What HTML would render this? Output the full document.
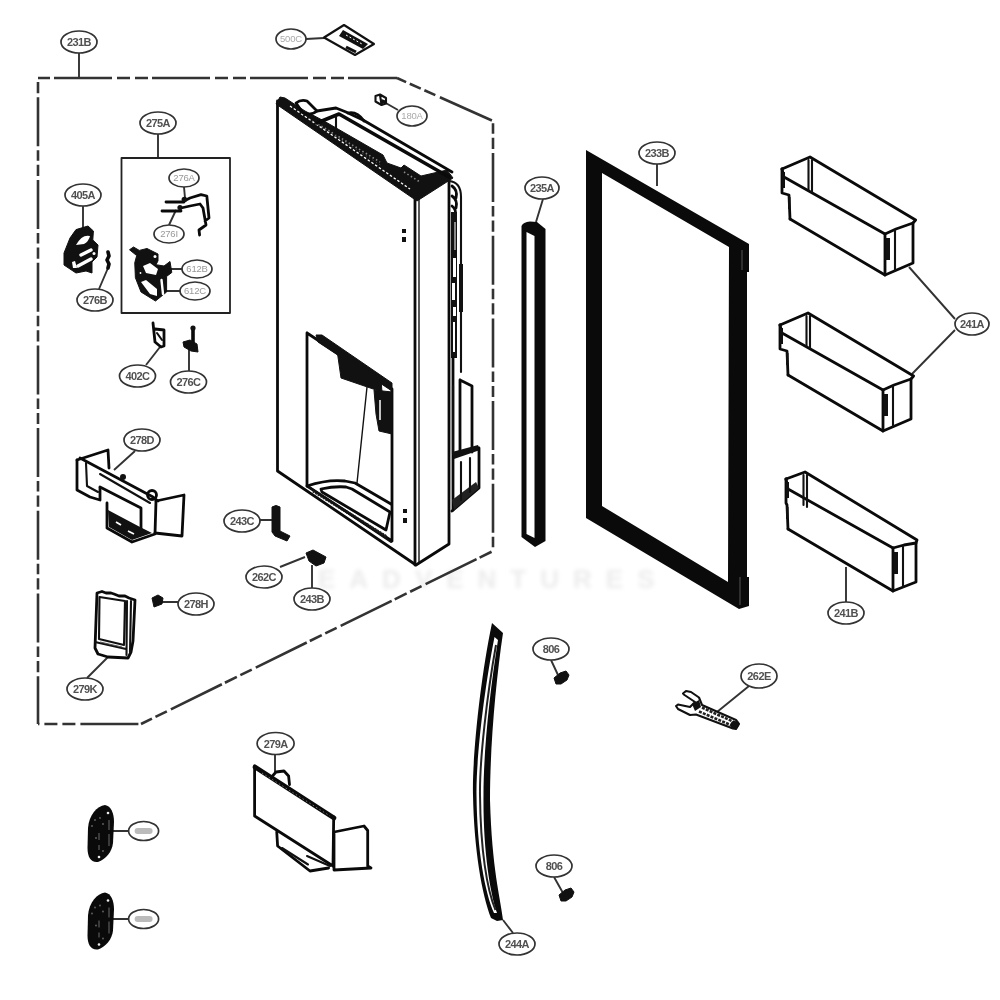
<!DOCTYPE html>
<html><head><meta charset="utf-8"><style>
html,body{margin:0;padding:0;background:#fff;}
svg{display:block;filter:blur(0.45px);}
text{font-family:"Liberation Sans",sans-serif;font-size:11px;text-anchor:middle;letter-spacing:-0.2px;}
.lb{fill:#fff;stroke:#333;stroke-width:1.7;}
.k1{fill:none;stroke:#111;stroke-width:1.4;stroke-linejoin:round;stroke-linecap:round;}
.k15{fill:none;stroke:#111;stroke-width:2.1;stroke-linejoin:round;stroke-linecap:round;}
.k2{fill:none;stroke:#0a0a0a;stroke-width:2.8;stroke-linejoin:round;stroke-linecap:round;}
.k3{fill:none;stroke:#0a0a0a;stroke-width:3.6;stroke-linejoin:round;stroke-linecap:round;}
.ld{fill:none;stroke:#333;stroke-width:1.9;}
.blk{fill:#111;stroke:#111;stroke-width:1;stroke-linejoin:round;}
.ds{fill:none;stroke:#333;stroke-width:2.6;stroke-dasharray:52 4 12 4 12 4;}
</style></head><body>
<svg width="1000" height="1000" viewBox="0 0 1000 1000">
<rect width="1000" height="1000" fill="#fff"/>
<!-- watermark -->
<filter id="wb" x="-10%" y="-50%" width="120%" height="200%"><feGaussianBlur stdDeviation="2.2"/></filter>
<text x="318" y="588" filter="url(#wb)" style="font-size:26px;letter-spacing:14px;font-weight:bold;text-anchor:start" fill="#ececec">EADVENTURES</text>

<!-- dashed boundary -->
<g fill="none" stroke="#333" stroke-width="2.6">
<path d="M38,78 L38,724" stroke-dasharray="49 4 10.5 4 11.2 4" stroke-dashoffset="63.4"/>
<path d="M38,78 L397,78" stroke-dasharray="58 5 13 5 13 4" stroke-dashoffset="82"/>
<path d="M397,78 L493,121" stroke-dasharray="57 4 12 4 12 5" stroke-dashoffset="47"/>
<path d="M493,121 L493,551" stroke-dasharray="49 4 10.5 4 11.2 4" stroke-dashoffset="50.7"/>
<path d="M141,724 L493,551" stroke-dasharray="56.8 3.4 13.3 3.9 12.7 4.5" stroke-dashoffset="61.3"/>
<path d="M38,724 L141,724" stroke-dasharray="58 5 13 5 13 5" stroke-dashoffset="56.6"/>
</g>

<!-- leader lines -->
<path class="ld" d="M79,53 L79,78 M158,134 L158,158 M184,187 L185,198 M169,225 L176,210 M83,206 L83,228
M99,289 L108,268 M171,269 L182,269 M165,291 L180,291 M160,347 L146,365 M189,348 L189,371
M135,451 L114,470 M260,520 L272,520 M280,567 L305,557 M312,565 L312,588 M162,602 L178,602
M108,657 L87,678 M306,39 L324,38 M384,102 L398,110 M657,164 L657,186 M543,199 L536,222
M909,267 L955,319 M955,330 L912,374 M846,567 L846,602 M551,660 L558,675 M554,877 L563,893
M503,920 L513,933 M749,686 L717,712 M275,755 L275,772 M113,831 L128,831 M113,919 L128,919"/>

<!-- 275A box -->
<rect x="121.5" y="158" width="108.5" height="155" class="k2" style="stroke:#222;stroke-width:1.8"/>

<!-- door -->
<path class="k2" d="M277.5,101 L277.5,471 L416,565 L449,544 L449,177"/>
<path class="k2" d="M415,198 L415,565"/>
<path class="k1" d="M419,196 L419,563"/>
<polygon class="blk" points="276,104 280,97 285,98 305,111 324,121 383,155 387,163 401,168 404,165 421,176 447,170 453,178 417,201"/>
<path d="M290,106 L410,189" stroke="#fff" stroke-width="1.3" stroke-dasharray="2.5 2"/>
<path d="M318,124 L380,162 M404,172 L420,182" stroke="#888" stroke-width="1.6" stroke-dasharray="1.5 2.5"/>
<path d="M312,121 L382,166" stroke="#666" stroke-width="1" stroke-dasharray="1 3"/>
<path class="k3" d="M317,123 L339,114 L449,177"/>
<path class="k2" d="M317,111 L336,108 L346,112 L363,120 L452,172"/>
<path class="k2" d="M296,103 Q301,99 307,101 L317,111 Q311,116 303,113 Z"/>
<path class="k15" d="M336,117 L336,134"/>
<path class="k2" d="M348,113 Q357,111 364,121"/>
<!-- side profile -->
<path class="k15" d="M449,181 Q461,182 461,197 L461,372"/>
<path class="k2" d="M452,186 Q458,190 456,198 M452,196 Q458,200 456,208 M452,206 Q457,210 455,216"/>
<rect x="451" y="212" width="6" height="146" fill="#111"/>
<path d="M455,222 L455,250 M454,262 L454,268" stroke="#fff" stroke-width="1"/>
<rect x="453" y="258" width="3" height="19" fill="#fff"/>
<rect x="452" y="283" width="3" height="17" fill="#fff"/>
<rect x="453" y="307" width="3" height="9" fill="#fff"/>
<rect x="453" y="322" width="2" height="30" fill="#fff"/>
<rect x="459" y="264" width="4" height="48" fill="#111"/>
<path class="k2" d="M453,358 L453,510"/>
<path class="k2" d="M460,380 L472,386 L472,452 M460,380 L460,452"/>
<path class="k15" d="M453,386 L453,454"/>
<path d="M452,452 L478,445 L480,450 L454,459 Z" fill="#111"/>
<path class="k2" d="M479,448 L479,488 L452,511"/>
<path d="M452,500 L476,482 L479,488 L454,510 Z" fill="#222"/>
<path class="k15" d="M461,462 L461,500 M470,458 L470,492"/>
<!-- front dots -->
<rect x="402" y="229" width="4" height="4" fill="#111"/><rect x="402" y="237" width="4" height="5" fill="#111"/>
<rect x="403" y="509" width="4" height="4" fill="#111"/><rect x="403" y="518" width="4" height="5" fill="#111"/>
<!-- dispenser recess -->
<path class="k2" d="M307,333 L307,486 L392,541 L392,389 L307,333"/>
<polygon class="blk" points="316,335 322,335 392,383 392,391 318,342"/>
<polygon class="blk" points="337,350 381,380 382,392 341,378"/>
<polygon class="blk" points="374,390 392,392 392,434 379,431 376,414"/>
<path d="M380,400 L380,420" stroke="#fff" stroke-width="1.5"/>
<path class="k1" d="M367,387 L357,483"/>
<path class="k2" d="M307,486 Q328,479 345,481 L355,483 L391,504"/>
<path class="k2" d="M321,489 Q335,486 346,487 L352,489 L390,512 L386,530 L322,492 Z"/>
<path d="M313,491 L387,537" stroke="#222" stroke-width="3" stroke-dasharray="2 1"/><path class="k15" d="M309,487 L391,542"/>

<!-- 180A part -->
<path class="k15" d="M375.5,96 L380,94.5 L386,98 L386,103.5 L381.5,105 L375.5,101.5 Z M380,95 L381.5,104.5"/><path d="M381.5,99 L385.5,100.5 L385.5,103 L381.5,104 Z" fill="#111"/>
<!-- 500C card -->
<polygon class="k15" style="fill:#fff" points="324,37.5 344,25 374,44 355,55"/>
<path d="M343,30 L368,44 L363,49 L339,36 Z" fill="#111"/><path d="M346,35 L362,44" stroke="#fff" stroke-width="1" stroke-dasharray="2 2"/><path d="M346,47 L356,52" stroke="#111" stroke-width="3"/>

<!-- 405A part -->
<path class="blk" d="M64,253 L70,238 L76,229.6 L88,226 L93.4,231 L92.8,240 L98,245 L97,257 L92,262 L92,273 L86,271 L76,273 L64,265 Z"/>
<path d="M76,245 Q82,234 90,236 Q89,241 84,244 Z" fill="#fff"/>
<path d="M81,255 L91,250 M78,266 L91,259" stroke="#fff" stroke-width="3.4" stroke-linecap="round"/>
<path d="M72,262 L75,261 L77,268 L73,268 Z" fill="#fff"/><circle cx="94" cy="253.6" r="1.5" fill="#fff"/>
<path class="k3" d="M108,252 L109,256 L107,260 L109,264 L108,268"/>
<!-- 276A bracket -->
<path class="k2" d="M166,202 L184,202 M162,211 L181,211 M184,201 L190,198 L201,194.6 L206.8,196 L209,218 L205,221 M181,208 L190,206 L200,204 L203,208 L206,225 L199,230 L199.6,235"/>
<circle cx="184.4" cy="199.5" r="2.8" fill="#111"/><circle cx="180" cy="207.5" r="2.6" fill="#111"/>
<!-- 612 part -->
<path class="blk" d="M129.5,249.75 L133.5,247 L139.3,250.4 L147,248.5 L158,254 L158,260.8 L156,264.7 L164,266 L170,261.5 L171.8,272.5 L166.6,276.4 L166.6,292 L155.5,301 L141,292 L135.4,277.7 L134.75,262.75 L136.7,255.6 Z"/>
<path d="M143,266 L150,263 L158,269 L156,275 L146,273 Z M141,282 L146,280 L157,289 L157,296 L150,294 Z" fill="#fff"/>
<path d="M161.5,280 L163,294" stroke="#fff" stroke-width="2.4" stroke-linecap="round"/>
<circle cx="155" cy="256.5" r="1.5" fill="#fff"/><circle cx="140.5" cy="273" r="0.9" fill="#fff"/>
<!-- 402C part -->
<path class="k2" d="M153,323 L155,342 L161,347 L164,346 L164,330 L155,329"/>
<path class="k15" d="M157,333 L162,340"/>
<!-- 276C part -->
<path class="k3" d="M193,329 L193,348"/>
<circle cx="193" cy="328" r="2.6" fill="#111"/>
<path class="blk" d="M183,342 L190,340 L197,344 L198,352 L191,351 L184,347 Z"/>

<!-- 278D part -->
<path class="k2" d="M77,460 L108,450 L109,468"/>
<path class="k2" d="M77,460 L77,490 L90,497 L100,500 L100,488"/>
<path class="k15" d="M86,463 L87,486 L98,492"/>
<path class="k2" d="M80,458 L153,497 L158,501"/>
<path class="k15" d="M100,474 L150,503"/>
<path class="k2" d="M100,487 L141,508 L141,530"/>
<path class="k2" d="M107,503 L107,528 L132,542 L155,534 L156,501"/>
<path d="M108,510 L140,527 L152,533 L132,540 L109,527 Z" fill="#111"/>
<path d="M116,522 L121,525 M128,531 L134,534" stroke="#fff" stroke-width="1.8"/>
<path class="k2" d="M156,501 L184,495 L182,536 L155,533"/>
<circle cx="152" cy="495" r="4.5" class="k2"/>
<circle cx="123" cy="477" r="3" fill="#111"/>
<!-- 243C part -->
<path class="blk" d="M272,507 Q276,504 280,507 L280,531 L290,536 L287,541 L275,536 L272,532 Z"/>
<!-- 243B part -->
<path class="blk" d="M306,553 L313,550 L326,557 L324,563 L316,566 L309,561 Z"/>
<!-- 278H part -->
<path class="blk" d="M152,598 L158,595 L163,598 L162,604 L154,607 Z"/>
<!-- 279K part -->
<path class="k2" d="M97,593 L102,591.5 L106,593 L111,593 L114,594 L119,596 L125,596 L129,598 L135,600 L133,641 L131,652 L128,658 L108,657 L98,654 L95,648 Z"/>
<path class="k15" d="M99.5,597 L125,601 L124,645 L99,639 Z M95,642 L126,649 M127,601 L126.5,655 M131,601 L130,652"/>
<path d="M100,642 L122,647" stroke="#555" stroke-width="1.2"/>
<!-- 233B gasket -->
<path d="M586,150 L749,244 L749,272 L747,272 L747,577 L749,577 L749,606 L739,609 L586,518 Z M602,173 L602,506 L728,582 L729,247 Z" fill="#0a0a0a" fill-rule="evenodd"/>
<!-- 235A strip -->
<path d="M521.5,226 Q523,222 530,221.5 L537,222 L545.5,229 L545.5,541 L535,547 L521.5,537 Z" fill="#0a0a0a"/>
<path d="M740,577 L740,605" stroke="#555" stroke-width="1"/><path d="M742,250 L742,270" stroke="#555" stroke-width="1"/>
<path d="M526.5,232 L534.5,236 L534.5,538 L526.5,534 Z" fill="#fff"/>

<!-- bins -->
<path class="k2" d="M782.0,169.0 L810.0,157.0 L915.6,220.0 L913.0,223.0 L913.0,263.0 L885.0,275.0 L790.0,219.0"/>
<path class="k2" d="M782.0,169.0 L784.0,177.0 L885.0,234.0 L896.0,229.0 L913.0,223.0"/>
<path class="k2" d="M782.0,169.0 L782.0,193.0 L789.0,195.0 L790.0,219.0"/>
<path class="k2" d="M885.0,234.0 L885.0,275.0"/>
<path class="k15" d="M895.0,230.0 L895.0,271.0"/>
<rect x="885.5" y="238.0" width="4.5" height="22" fill="#111"/>
<path class="k15" d="M808.5,160.0 L808.5,190.0 M812.0,160.0 L812.0,192.0"/>
<rect x="782.0" y="172.0" width="3" height="16" fill="#111"/>
<rect x="788.0" y="197.0" width="2.5" height="12" fill="#111"/>
<path class="k2" d="M780.0,325.0 L808.0,313.0 L913.6,376.0 L911.0,379.0 L911.0,419.0 L883.0,431.0 L788.0,375.0"/>
<path class="k2" d="M780.0,325.0 L782.0,333.0 L883.0,390.0 L894.0,385.0 L911.0,379.0"/>
<path class="k2" d="M780.0,325.0 L780.0,349.0 L787.0,351.0 L788.0,375.0"/>
<path class="k2" d="M883.0,390.0 L883.0,431.0"/>
<path class="k15" d="M893.0,386.0 L893.0,427.0"/>
<rect x="883.5" y="394.0" width="4.5" height="22" fill="#111"/>
<path class="k15" d="M806.5,316.0 L806.5,346.0 M810.0,316.0 L810.0,348.0"/>
<rect x="780.0" y="328.0" width="3" height="16" fill="#111"/>
<rect x="786.0" y="353.0" width="2.5" height="12" fill="#111"/>
<path class="k2" d="M786.0,479.0 L805.0,472.0 L917.0,540.0 L916.0,543.0 L916.0,582.0 L893.0,591.0 L788.0,529.0"/>
<path class="k2" d="M786.0,479.0 L788.0,489.0 L893.0,548.0 L904.0,545.0 L916.0,543.0"/>
<path class="k2" d="M786.0,479.0 L786.0,503.0 L787.0,505.0 L788.0,529.0"/>
<path class="k2" d="M893.0,548.0 L893.0,591.0"/>
<path class="k15" d="M903.0,546.0 L903.0,587.0"/>
<rect x="893.5" y="552.0" width="4.5" height="22" fill="#111"/>
<path class="k15" d="M803.5,475.0 L803.5,505.0 M807.0,475.0 L807.0,507.0"/>
<rect x="786.0" y="482.0" width="3" height="16" fill="#111"/>
<rect x="786.0" y="507.0" width="2.5" height="12" fill="#111"/>

<!-- handle 244A -->
<path d="M492,623 C480,680 472,760 473,795 C474,850 482,895 491,918 L497,921 L503,920 C500,895 492,870 490,800 C490,745 496,680 503,633 Z" fill="#0a0a0a"/>
<path d="M494.5,637 C484,690 476,760 476.5,795 C477,850 485,893 494,913 L497,913 C490,893 483,850 483.5,795 C483.5,750 490,690 498,640 Z" fill="#fff"/>
<path d="M496,645 C487,695 479.5,760 480,795 C480.5,850 487,890 495.5,910" stroke="#222" stroke-width="2" fill="none"/>
<!-- screws -->
<path class="blk" d="M554,678 L560,673 L566,671 L569,675 L567,680 L561,684 L556,684 Z"/>
<path class="blk" d="M559,895 L565,890 L571,888 L574,892 L572,897 L566,901 L561,901 Z"/>

<!-- wrench 262E -->
<path class="k15" d="M683,693.5 L686,691 L691,692 L699,697.5 L702,705 L736,720 L739,724 L736,729 L733,728.5 L696,714.5 L690,715 L678,709 L676,706 L678,704.5 L690,707 L695,702 L684.5,695 Z"/>
<path d="M702,707.5 L735,722.5 M699,711.5 L733,726" stroke="#222" stroke-width="2.6" stroke-dasharray="3 1.2"/>
<path d="M692,704 L699,700 L701,707 L695,711 Z" fill="#111"/>
<circle cx="734.5" cy="725" r="4" fill="#111"/>
<!-- 279A part -->
<path class="k2" d="M254.6,766 L254.6,816 L333,866 L333.7,817"/>
<path d="M255,767 L334,818" stroke="#0a0a0a" stroke-width="4.6" stroke-linecap="round"/>
<path d="M262,773 L330,816" stroke="#777" stroke-width="1" stroke-dasharray="1.5 2.5"/>
<path class="k2" d="M272.5,776 L276,772 L284,771 L288.6,776 L289.5,784.6"/>
<path class="k2" d="M334,832 L364,826 L367.7,830.5 L367.7,866 L371,868 L334,870 Z"/>
<path class="k2" d="M276.75,832 L277.6,846 L310,871 L328.6,868"/>
<path class="k15" d="M282,848 L308,864.5 M307,856 L330,866"/>
<!-- filters -->
<path d="M105,805 C111,806 114,813 114,822 L113,843 C112,852 106,859 98,862 C91,863 87.5,857 87.5,848 L88,828 C89,815 97,806 105,805 Z" fill="#0a0a0a"/>
<path transform="translate(0,87.5)" d="M105,805 C111,806 114,813 114,822 L113,843 C112,852 106,859 98,862 C91,863 87.5,857 87.5,848 L88,828 C89,815 97,806 105,805 Z" fill="#0a0a0a"/>
<circle cx="108" cy="813" r="1.3" fill="#eee"/><circle cx="99" cy="857" r="1.3" fill="#eee"/>
<path d="M109,820 L109,830 M109,834 L109,846 M99,833 L99,840 M99,845 L99,850" stroke="#555" stroke-width="1.3"/>
<circle cx="95" cy="820" r="0.9" fill="#666"/>
<circle cx="92" cy="826" r="0.9" fill="#666"/>
<circle cx="100" cy="818" r="0.9" fill="#666"/>
<circle cx="103" cy="824" r="0.9" fill="#666"/>
<circle cx="96" cy="838" r="0.9" fill="#666"/>
<circle cx="103" cy="851" r="0.9" fill="#666"/>
<circle cx="108" cy="900.5" r="1.3" fill="#eee"/><circle cx="99" cy="944.5" r="1.3" fill="#eee"/>
<path d="M109,907.5 L109,917.5 M109,921.5 L109,933.5 M99,920.5 L99,927.5 M99,932.5 L99,937.5" stroke="#555" stroke-width="1.3"/>
<circle cx="95" cy="907.5" r="0.9" fill="#666"/>
<circle cx="92" cy="913.5" r="0.9" fill="#666"/>
<circle cx="100" cy="905.5" r="0.9" fill="#666"/>
<circle cx="103" cy="911.5" r="0.9" fill="#666"/>
<circle cx="96" cy="925.5" r="0.9" fill="#666"/>
<circle cx="103" cy="938.5" r="0.9" fill="#666"/>
<ellipse cx="79" cy="42" rx="18" ry="11" class="lb"/>
<text x="79" y="46.0" fill="#505050" style="font-size:11px;font-weight:bold;letter-spacing:-0.6px">231B</text>
<ellipse cx="291" cy="39" rx="15" ry="10" class="lb"/>
<text x="291" y="42.4" fill="#aaa" style="font-size:9.5px">500C</text>
<ellipse cx="412" cy="116" rx="15" ry="10" class="lb"/>
<text x="412" y="119.4" fill="#aaa" style="font-size:9.5px">180A</text>
<ellipse cx="158" cy="123" rx="18" ry="11" class="lb"/>
<text x="158" y="127.0" fill="#505050" style="font-size:11px;font-weight:bold;letter-spacing:-0.6px">275A</text>
<ellipse cx="184" cy="178" rx="15" ry="9" class="lb"/>
<text x="184" y="181.4" fill="#999" style="font-size:9.5px">276A</text>
<ellipse cx="169" cy="234" rx="15" ry="9" class="lb"/>
<text x="169" y="237.4" fill="#999" style="font-size:9.5px">276I</text>
<ellipse cx="83" cy="195" rx="18" ry="11" class="lb"/>
<text x="83" y="199.0" fill="#505050" style="font-size:11px;font-weight:bold;letter-spacing:-0.6px">405A</text>
<ellipse cx="95" cy="300" rx="18" ry="11" class="lb"/>
<text x="95" y="304.0" fill="#505050" style="font-size:11px;font-weight:bold;letter-spacing:-0.6px">276B</text>
<ellipse cx="197" cy="269" rx="15" ry="9" class="lb"/>
<text x="197" y="272.4" fill="#999" style="font-size:9.5px">612B</text>
<ellipse cx="195" cy="291" rx="15" ry="9" class="lb"/>
<text x="195" y="294.4" fill="#999" style="font-size:9.5px">612C</text>
<ellipse cx="137.5" cy="376" rx="18" ry="11" class="lb"/>
<text x="137.5" y="380.0" fill="#505050" style="font-size:11px;font-weight:bold;letter-spacing:-0.6px">402C</text>
<ellipse cx="188.5" cy="382" rx="18" ry="11" class="lb"/>
<text x="188.5" y="386.0" fill="#505050" style="font-size:11px;font-weight:bold;letter-spacing:-0.6px">276C</text>
<ellipse cx="142" cy="440" rx="18" ry="11" class="lb"/>
<text x="142" y="444.0" fill="#505050" style="font-size:11px;font-weight:bold;letter-spacing:-0.6px">278D</text>
<ellipse cx="242" cy="521" rx="18" ry="11" class="lb"/>
<text x="242" y="525.0" fill="#505050" style="font-size:11px;font-weight:bold;letter-spacing:-0.6px">243C</text>
<ellipse cx="264" cy="577" rx="18" ry="11" class="lb"/>
<text x="264" y="581.0" fill="#505050" style="font-size:11px;font-weight:bold;letter-spacing:-0.6px">262C</text>
<ellipse cx="312" cy="599" rx="18" ry="11" class="lb"/>
<text x="312" y="603.0" fill="#505050" style="font-size:11px;font-weight:bold;letter-spacing:-0.6px">243B</text>
<ellipse cx="196" cy="604" rx="18" ry="11" class="lb"/>
<text x="196" y="608.0" fill="#505050" style="font-size:11px;font-weight:bold;letter-spacing:-0.6px">278H</text>
<ellipse cx="85" cy="689" rx="18" ry="11" class="lb"/>
<text x="85" y="693.0" fill="#505050" style="font-size:11px;font-weight:bold;letter-spacing:-0.6px">279K</text>
<ellipse cx="657" cy="153" rx="18" ry="11" class="lb"/>
<text x="657" y="157.0" fill="#505050" style="font-size:11px;font-weight:bold;letter-spacing:-0.6px">233B</text>
<ellipse cx="542" cy="188" rx="17" ry="11" class="lb"/>
<text x="542" y="192.0" fill="#505050" style="font-size:11px;font-weight:bold;letter-spacing:-0.6px">235A</text>
<ellipse cx="972" cy="324" rx="17" ry="11" class="lb"/>
<text x="972" y="328.0" fill="#505050" style="font-size:11px;font-weight:bold;letter-spacing:-0.6px">241A</text>
<ellipse cx="846" cy="613" rx="18" ry="11" class="lb"/>
<text x="846" y="617.0" fill="#505050" style="font-size:11px;font-weight:bold;letter-spacing:-0.6px">241B</text>
<ellipse cx="551" cy="649" rx="18" ry="11" class="lb"/>
<text x="551" y="653.0" fill="#505050" style="font-size:11px;font-weight:bold;letter-spacing:-0.6px">806</text>
<ellipse cx="554" cy="866" rx="18" ry="11" class="lb"/>
<text x="554" y="870.0" fill="#505050" style="font-size:11px;font-weight:bold;letter-spacing:-0.6px">806</text>
<ellipse cx="517" cy="944" rx="18" ry="11" class="lb"/>
<text x="517" y="948.0" fill="#505050" style="font-size:11px;font-weight:bold;letter-spacing:-0.6px">244A</text>
<ellipse cx="759" cy="676" rx="18" ry="12" class="lb"/>
<text x="759" y="680.0" fill="#505050" style="font-size:11px;font-weight:bold;letter-spacing:-0.6px">262E</text>
<ellipse cx="275.6" cy="743.5" rx="18.5" ry="11" class="lb"/>
<text x="275.6" y="747.5" fill="#505050" style="font-size:11px;font-weight:bold;letter-spacing:-0.6px">279A</text>
<ellipse cx="143.6" cy="831" rx="15" ry="9.5" class="lb"/>
<rect x="134.6" y="828" width="18" height="6" rx="3" fill="#bbb"/>
<ellipse cx="143.6" cy="919" rx="15" ry="9.5" class="lb"/>
<rect x="134.6" y="916" width="18" height="6" rx="3" fill="#bbb"/>
</svg>
</body></html>
